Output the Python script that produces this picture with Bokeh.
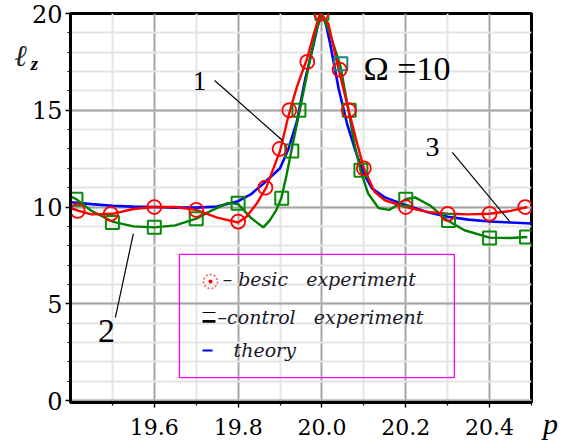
from bokeh.plotting import figure
from bokeh.models import Range1d, FixedTicker, Label, BoxAnnotation, NumeralTickFormatter
from bokeh.embed import file_html
from bokeh.resources import INLINE

# ---- data -------------------------------------------------------------
# theory curve l_z(p)
theory_p = [19.40, 19.45, 19.50, 19.55, 19.60, 19.65, 19.70, 19.75, 19.80, 19.83,
            19.86, 19.88, 19.90, 19.92, 19.94, 19.96, 19.98, 19.99, 20.00, 20.01,
            20.02, 20.04, 20.06, 20.08, 20.10, 20.12, 20.15, 20.20, 20.25, 20.30,
            20.35, 20.40, 20.45, 20.50]
theory_l = [10.25, 10.15, 10.07, 10.02, 10.00, 9.97, 9.97, 10.03, 10.30, 10.65,
            11.20, 11.60, 12.00, 13.00, 14.40, 16.60, 18.40, 19.40, 20.00, 19.40,
            18.40, 16.10, 14.30, 12.90, 11.70, 10.95, 10.50, 10.10, 9.75, 9.50,
            9.35, 9.25, 9.20, 9.15]

# basic experiment: measured points and fitted curve
basic_p = [19.417, 19.496, 19.60, 19.70, 19.80, 19.865, 19.899, 19.922, 19.965,
           19.998, 20.042, 20.064, 20.10, 20.20, 20.30, 20.40, 20.485]
basic_l = [9.80, 9.65, 10.00, 9.85, 9.25, 11.00, 13.00, 15.00, 17.50,
           20.00, 17.10, 15.00, 12.00, 10.00, 9.65, 9.65, 10.00]
basic_curve_p = [19.40, 19.42, 19.45, 19.50, 19.55, 19.60, 19.65, 19.70, 19.75, 19.80,
                 19.82, 19.845, 19.867, 19.90, 19.92, 19.94, 19.965, 19.98, 19.995, 20.015,
                 20.04, 20.065, 20.085, 20.10, 20.125, 20.15, 20.20, 20.25, 20.30, 20.35,
                 20.40, 20.45, 20.49]
basic_curve_l = [9.95, 9.80, 9.62, 9.65, 9.90, 10.00, 10.00, 9.85, 9.45, 9.20,
                 9.50, 10.20, 11.00, 12.90, 14.70, 16.20, 17.70, 18.90, 20.00, 19.50,
                 17.10, 14.90, 13.20, 12.00, 10.80, 10.35, 10.00, 9.75, 9.65, 9.62,
                 9.65, 9.80, 10.00]

# control experiment: measured points and fitted curve
control_p = [19.413, 19.50, 19.60, 19.70, 19.80, 19.904, 19.928, 19.945, 20.00,
             20.045, 20.065, 20.093, 20.20, 20.302, 20.40, 20.488]
control_l = [10.40, 9.20, 8.95, 9.40, 10.20, 10.45, 12.90, 15.00, 20.00,
             17.40, 15.00, 11.90, 10.40, 9.30, 8.40, 8.45]
control_curve_p = [19.40, 19.414, 19.45, 19.50, 19.55, 19.60, 19.65, 19.70, 19.735, 19.775,
                   19.80, 19.83, 19.86, 19.875, 19.89, 19.903, 19.915, 19.927, 19.946, 19.97,
                   19.985, 20.00, 20.02, 20.044, 20.064, 20.078, 20.092, 20.11, 20.135, 20.16,
                   20.18, 20.20, 20.222, 20.26, 20.30, 20.34, 20.40, 20.45, 20.49]
control_curve_l = [10.55, 10.40, 9.80, 9.25, 9.00, 8.95, 9.05, 9.40, 9.80, 10.20,
                   10.15, 9.45, 8.95, 9.30, 9.80, 10.45, 11.60, 12.90, 14.90, 17.45,
                   19.00, 20.00, 18.90, 17.30, 14.90, 13.20, 11.90, 10.70, 9.95, 9.85,
                   10.10, 10.40, 10.50, 10.05, 9.30, 8.80, 8.42, 8.40, 8.45]

x_ticks = [19.6, 19.8, 20.0, 20.2, 20.4]
x_minor = [19.5, 19.7, 19.9, 20.1, 20.3, 20.5]
y_ticks = [0, 5, 10, 15, 20]
y_minor = list(range(0, 21))

# ---- figure -----------------------------------------------------------
SERIF = "Liberation Serif"
NB = "\u00a0"

p = figure(width=581, height=444, output_backend="svg", toolbar_location=None,
           x_range=Range1d(19.4, 20.5), y_range=Range1d(-0.1, 20.0),
           min_border_left=70, min_border_right=50, min_border_top=13,
           min_border_bottom=42)
p.background_fill_color = "white"
p.border_fill_color = "white"
p.outline_line_color = "black"
p.outline_line_width = 3

for ax in (p.xaxis[0], p.yaxis[0]):
    ax.axis_line_width = 3
    ax.axis_line_color = "black"
    ax.major_tick_line_color = "black"
    ax.minor_tick_line_color = "black"
    ax.major_tick_line_width = 1.5
    ax.minor_tick_line_width = 1.2
    ax.major_tick_in = 0
    ax.minor_tick_in = 0
    ax.major_tick_out = 5
    ax.minor_tick_out = 3
    ax.major_label_text_font = "DejaVu Serif"
    ax.major_label_text_color = "black"

p.xaxis.ticker = FixedTicker(ticks=x_ticks, minor_ticks=x_minor)
p.xaxis.formatter = NumeralTickFormatter(format="0.0")
p.xaxis.major_label_text_font_size = "22px"
p.xaxis.major_label_standoff = 11
p.yaxis.ticker = FixedTicker(ticks=y_ticks, minor_ticks=y_minor)
p.yaxis.major_label_text_font_size = "24px"
p.yaxis.major_label_standoff = 3

for g in (p.xgrid[0], p.ygrid[0]):
    g.grid_line_color = "#a4a4a4"
    g.grid_line_width = 2
    g.minor_grid_line_color = "#e4e4e4"
    g.minor_grid_line_width = 2

# ---- curves and points -----------------------------------------------
p.line(theory_p, theory_l, line_color="#0000ff", line_width=2.6)
p.line(control_curve_p, control_curve_l, line_color="#008000", line_width=2.4)
p.line(basic_curve_p, basic_curve_l, line_color="#ff0000", line_width=2.4)

control_colors = ["#0a8a0a"] * len(control_p)
control_colors[control_p.index(20.045)] = "#108888"
p.scatter(control_p, control_l, marker="square", size=13, line_width=2,
          line_color=control_colors, fill_color=None)
p.scatter(basic_p, basic_l, marker="circle", size=14, line_width=1.8,
          line_color="#ff0000", fill_color=None)

# ---- curve labels with leader lines -----------------------------------
p.segment(x0=[19.744, 19.550, 20.311], y0=[16.54, 8.63, 12.82],
          x1=[19.906, 19.507, 20.450], y1=[13.44, 4.29, 9.20],
          line_color="black", line_width=1.2)

for txt, x, y, size in (("1", 19.708, 16.49, "27px"),
                        ("2", 19.486, 3.62, "34px"),
                        ("3", 20.264, 13.08, "28px")):
    p.add_layout(Label(x=x, y=y, text=txt, text_font=SERIF, text_font_size=size,
                       text_align="center", text_baseline="middle", text_color="black"))

p.add_layout(Label(x=20.099, y=17.16, text="\u03a9 =10", text_font=SERIF,
                   text_font_size="34px", text_align="left",
                   text_baseline="alphabetic", text_color="black"))

# axis names, drawn in the side margins (canvas pixels)
p.add_layout(Label(x=20, y=55, x_units="canvas", y_units="canvas", text="\u2113",
                   text_font=SERIF, text_font_style="italic", text_font_size="30px",
                   text_align="center", text_baseline="middle", text_color="#222222"),
             "left")
p.add_layout(Label(x=34, y=63, x_units="canvas", y_units="canvas", text="z",
                   text_font=SERIF, text_font_style="bold italic", text_font_size="19px",
                   text_align="center", text_baseline="middle", text_color="black"),
             "left")
p.add_layout(Label(x=550, y=423, x_units="canvas", y_units="canvas", text="p",
                   text_font=SERIF, text_font_style="italic", text_font_size="30px",
                   text_align="center", text_baseline="middle", text_color="black"),
             "right")

# ---- legend box --------------------------------------------------------
p.add_layout(BoxAnnotation(left=19.660, right=20.316, top=7.55, bottom=1.19,
                           fill_alpha=0, line_color="#ff00ff", line_alpha=1.0,
                           line_width=1.3))

p.scatter([19.734], [6.15], marker="circle", size=14, line_width=1.6,
          line_color="#ff5a5a", line_dash="2 2", fill_color=None)
p.scatter([19.734], [6.15], marker="circle", size=4, line_width=0,
          fill_color="#ff0000")
p.segment(x0=[19.715, 19.715], y0=[4.55, 4.09], x1=[19.746, 19.746], y1=[4.55, 4.09],
          line_color="black", line_width=[1.2, 2.6])
p.segment(x0=[19.715], y0=[2.59], x1=[19.739], y1=[2.59],
          line_color="#0000ff", line_width=2)

for txt, x, y in (("\u2013 besic" + NB * 3 + "experiment", 19.763, 6.26),
                  ("\u2013control" + NB * 3 + "experiment", 19.751, 4.34),
                  ("theory", 19.789, 2.59)):
    p.add_layout(Label(x=x, y=y, text=txt, text_font="DejaVu Serif",
                       text_font_style="italic", text_font_size="19px",
                       text_align="left", text_baseline="middle",
                       text_color="#1a1a2a"))

open("out.html", "w").write(file_html(p, INLINE))
